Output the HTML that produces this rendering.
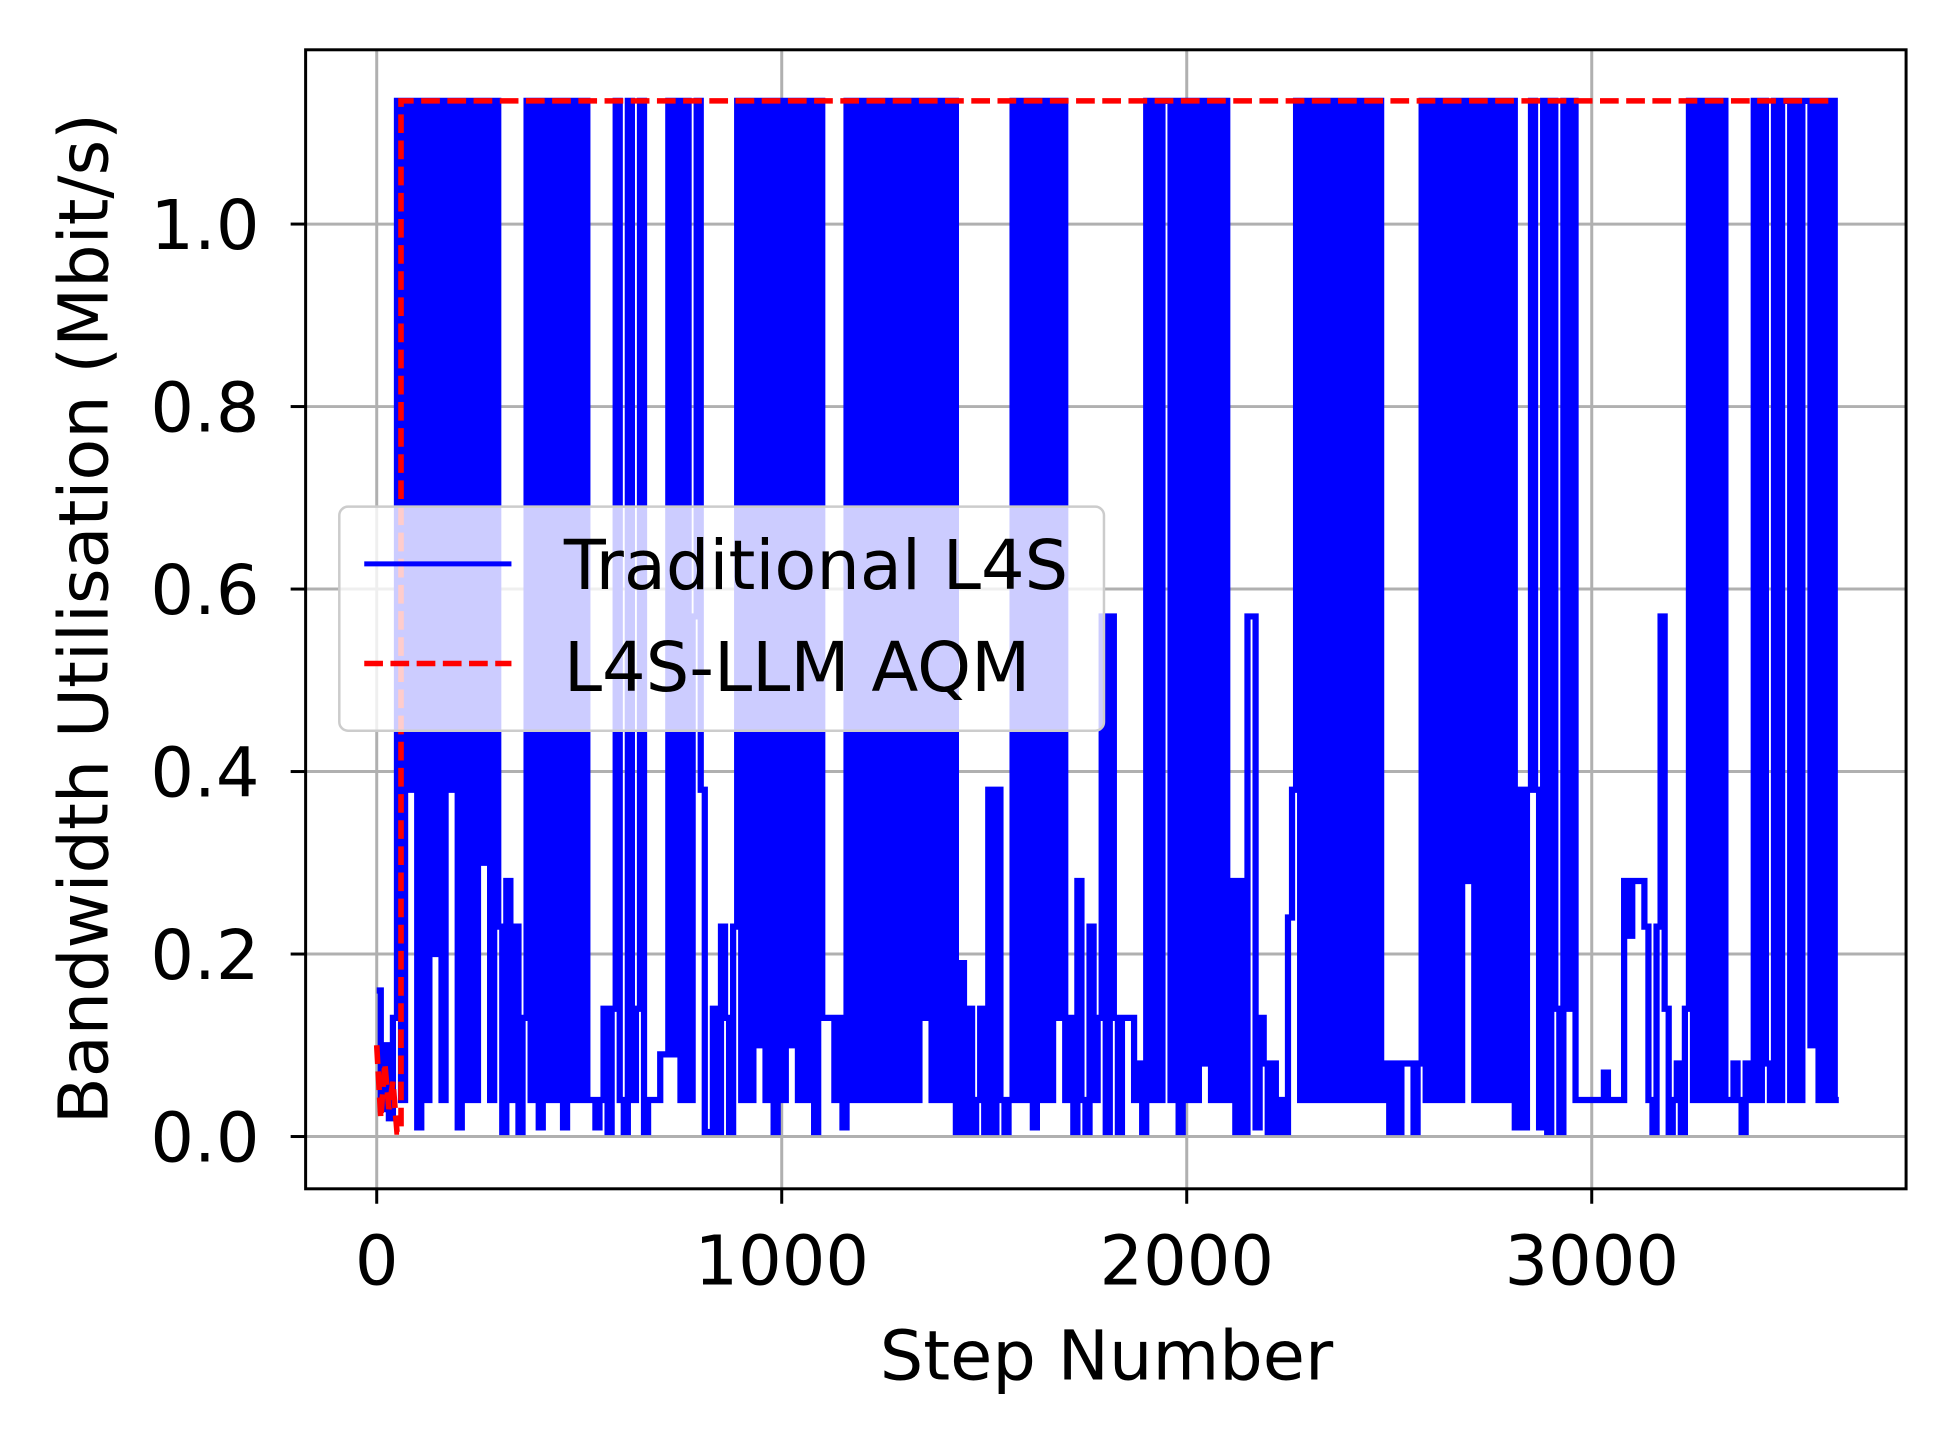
<!DOCTYPE html>
<html><head><meta charset="utf-8"><style>
html,body{margin:0;padding:0;background:#fff;}
svg{display:block;font-family:"DejaVu Sans","Liberation Sans",sans-serif;}
</style></head><body>
<svg id="chart" width="1946" height="1444" viewBox="0 0 1560 1160" preserveAspectRatio="none" xmlns="http://www.w3.org/2000/svg">
<rect width="1560" height="1160" fill="#fff"/>
<g id="grid"></g>
<g id="plot"></g>
<rect x="245" y="40" width="1283" height="915" fill="none" stroke="#000" stroke-width="2.4"/>
<g id="ticks" font-size="55" fill="#000"></g>
<text x="887" y="1108" font-size="55" text-anchor="middle">Step Number</text>
<text transform="translate(86,497) rotate(-90)" font-size="55" text-anchor="middle">Bandwidth Utilisation (Mbit/s)</text>
<g>
<rect x="272" y="407" width="613" height="180" rx="7" fill="#fff" fill-opacity="0.8" stroke="#ccc" stroke-width="2"/>
<line x1="292" y1="453" x2="410" y2="453" stroke="#0000ff" stroke-width="4"/>
<text x="452" y="473" font-size="55">Traditional L4S</text>
<line x1="292" y1="533" x2="410" y2="533" stroke="#ff0000" stroke-width="4.5" stroke-dasharray="15,6"/>
<text x="452" y="555" font-size="55">L4S-LLM AQM</text>
</g>
</svg>
<script>
const H = 1.135;
const xTicks = [0, 1000, 2000, 3000];
const yTicks = [0.0, 0.2, 0.4, 0.6, 0.8, 1.0];
const binSize = 10;
const blueValues = [
0.16,0.03,0.1,0.02,0.13,
H,.04,H,.38,H,.01,H,.04,H,.2,H,.04,H,.38,H,.01,H,.04,H,.04,H,.3,H,.04,H,
.23,.005,.28,.04,.23,.005,.13,
H,.04,H,.01,H,.04,H,.04,H,.01,H,.04,H,.04,H,.04,
.04,.01,.04,
.14,.005,.14,H,.04,.005,H,.04,.14,H,.005,.04,
.04,.04,.09,.09,H,.09,H,.04,H,.04,.57,H,.38,.005,.005,.14,
.005,.23,.13,.005,.23,
H,.04,H,.04,H,.1,H,.04,H,.005,H,.04,H,.1,H,.04,H,.04,H,.005,H,
.13,.13,.13,.04,.13,.01,
H,.04,H,.04,H,.04,H,.04,H,.04,H,.04,H,.04,H,.04,H,.04,H,.13,H,.04,H,.04,H,.04,H,
.005,.19,.005,.14,.005,.04,.14,.005,.38,.005,.38,.04,.005,.04,
H,.04,H,.04,H,.01,H,.04,H,.04,H,.13,H,.04,.13,
.005,.28,.04,.005,.23,.04,.13,.57,.005,.57,.13,.005,.13,.13,.13,.04,.08,.005,
H,.04,H,.04,H,H,.04,H,.005,H,.04,H,.04,H,.08,H,.04,H,.04,H,.04,
.28,.005,.28,.005,.57,.57,.01,.13,.08,.005,.08,.005,.04,.005,.24,
.38,H,.04,H,.04,H,.04,H,.04,H,.04,H,.04,H,.04,H,.04,H,.04,H,.04,H,.04,
.08,.005,.08,.005,.08,.08,.08,.005,.08,
H,.04,H,.04,H,.04,H,.04,H,.04,H,.28,H,.04,H,.04,H,.04,H,.04,H,.04,H,
.01,.38,.01,.38,H,.38,.01,
H,.005,H,.14,.005,H,.14,H,
.04,.04,.04,.04,.04,.04,.04,.07,.04,.04,.04,.04,.28,.22,.28,.28,.28,.23,.04,.005,.23,.57,.14,.005,.04,.08,.005,.14,
H,.04,H,.04,H,.04,H,.04,H,.04,
.04,.08,.04,.005,.08,.04,H,.04,H,.08,.04,
H,.04,H,H,.04,H,.04,H,H,.1,H,.04,H,.04,H,.04
];
const redSteps = [0, 10, 20, 30, 40, 50, 60, 60, 3600];
const redValues = [0.1, 0.02, 0.08, 0.03, 0.06, 0.005, 0.005, 1.135, 1.135];

const NS = "http://www.w3.org/2000/svg";
const xs = s => 302 + s * 0.32467;
const ys = v => 913 - v * 733;
const grid = document.getElementById('grid');
const plot = document.getElementById('plot');
const ticks = document.getElementById('ticks');

xTicks.forEach(t => {
  const g = document.createElementNS(NS, 'line');
  
  
  g.setAttribute('x1', xs(t)); g.setAttribute('x2', xs(t));
  g.setAttribute('y1', 40); g.setAttribute('y2', 955);
  g.setAttribute('stroke', '#b0b0b0'); g.setAttribute('stroke-width', '2.4');
  grid.appendChild(g);
  const tk = document.createElementNS(NS, 'line');
  
  
  tk.setAttribute('x1', xs(t)); tk.setAttribute('x2', xs(t));
  tk.setAttribute('y1', 955); tk.setAttribute('y2', 967);
  tk.setAttribute('stroke', '#000'); tk.setAttribute('stroke-width', '2.4');
  ticks.appendChild(tk);
  const tx = document.createElementNS(NS, 'text');
  
  
  tx.setAttribute('x', xs(t)); tx.setAttribute('y', 1032);
  tx.setAttribute('text-anchor', 'middle');
  tx.textContent = String(t);
  ticks.appendChild(tx);
});
yTicks.forEach(t => {
  const g = document.createElementNS(NS, 'line');
  
  
  g.setAttribute('x1', 245); g.setAttribute('x2', 1528);
  g.setAttribute('y1', ys(t)); g.setAttribute('y2', ys(t));
  g.setAttribute('stroke', '#b0b0b0'); g.setAttribute('stroke-width', '2.4');
  grid.appendChild(g);
  const tk = document.createElementNS(NS, 'line');
  
  
  tk.setAttribute('x1', 233); tk.setAttribute('x2', 245);
  tk.setAttribute('y1', ys(t)); tk.setAttribute('y2', ys(t));
  tk.setAttribute('stroke', '#000'); tk.setAttribute('stroke-width', '2.4');
  ticks.appendChild(tk);
  const tx = document.createElementNS(NS, 'text');
  
  
  tx.setAttribute('x', 208); tx.setAttribute('y', ys(t) + 20);
  tx.setAttribute('text-anchor', 'end');
  tx.textContent = t.toFixed(1);
  ticks.appendChild(tx);
});

let d = '';
blueValues.forEach((v, i) => {
  const x0 = xs(i * binSize), x1 = xs((i + 1) * binSize);
  d += (i === 0 ? 'M' : 'L') + x0.toFixed(2) + ',' + ys(v).toFixed(2) + 'L' + x1.toFixed(2) + ',' + ys(v).toFixed(2);
});
const blue = document.createElementNS(NS, 'path');


blue.setAttribute('d', d);
blue.setAttribute('fill', 'none');
blue.setAttribute('stroke', '#0000ff');
blue.setAttribute('stroke-width', '5');
blue.setAttribute('stroke-linejoin', 'miter');
plot.appendChild(blue);

let rd = '';
redSteps.forEach((s, i) => {
  rd += (i === 0 ? 'M' : 'L') + xs(s).toFixed(2) + ',' + ys(redValues[i]).toFixed(2);
});
const red = document.createElementNS(NS, 'path');


red.setAttribute('d', rd);
red.setAttribute('fill', 'none');
red.setAttribute('stroke', '#ff0000');
red.setAttribute('stroke-width', '4.5');
red.setAttribute('stroke-dasharray', '15,6');
plot.appendChild(red);
</script>
</body></html>
